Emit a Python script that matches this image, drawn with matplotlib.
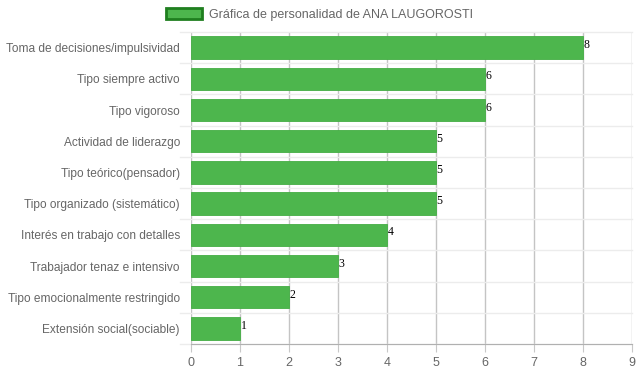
import matplotlib
matplotlib.use('Agg')
import matplotlib.pyplot as plt
from matplotlib.patches import Patch

plt.rcParams['font.family'] = ['Liberation Sans', 'DejaVu Sans']

# Data
categories = [
    'Toma de decisiones/impulsividad',
    'Tipo siempre activo',
    'Tipo vigoroso',
    'Actividad de liderazgo',
    'Tipo teórico(pensador)',
    'Tipo organizado (sistemático)',
    'Interés en trabajo con detalles',
    'Trabajador tenaz e intensivo',
    'Tipo emocionalmente restringido',
    'Extensión social(sociable)',
]
values = [8, 6, 6, 5, 5, 5, 4, 3, 2, 1]
legend_label = 'Gráfica de personalidad de ANA LAUGOROSTI'
x_ticks = list(range(0, 10))

fig = plt.figure(figsize=(6.39, 3.72), dpi=100)
ax = fig.add_axes([191 / 639, 1 - 344 / 372, (632 - 191) / 639, (344 - 32) / 372])

pos = list(range(len(categories)))
ax.barh(pos, values, height=0.72, color='#4db64d', edgecolor='#44ad44', linewidth=0.6, zorder=2)

for p, v in zip(pos, values):
    ax.text(v + 0.01, p - 0.08, str(v), fontsize=8.5, family='Liberation Serif',
            color='black', va='center', ha='left', zorder=3)

ax.set_xlim(0, 9)
ax.set_ylim(len(categories) - 0.5, -0.5)
ax.set_xticks(x_ticks)
ax.set_xticklabels([str(t) for t in x_ticks], fontsize=9, color='#666666')
ax.set_yticks(pos)
ax.set_yticklabels(categories, fontsize=8.6, color='#666666')

# grid lines
for t in x_ticks:
    ax.axvline(t, color='#c4c4c4', linewidth=1, zorder=1)
for b in [i - 0.5 for i in range(len(categories) + 1)]:
    ax.plot([-0.22, 9], [b, b], color='#ececec', linewidth=1, zorder=1, clip_on=False)

for s in ax.spines.values():
    s.set_visible(False)
ax.spines['bottom'].set_visible(True)
ax.spines['bottom'].set_color('#b0b0b0')
ax.tick_params(axis='y', length=0, pad=8)
ax.tick_params(axis='x', length=6, color='#c8c8c8', pad=3)

handle = Patch(facecolor='#4db64d', edgecolor='#1f7f1f', linewidth=2)
fig.legend([handle], [legend_label], loc='upper center', bbox_to_anchor=(0.5, 1.0),
           frameon=False, fontsize=9, labelcolor='#666666', handlelength=2.9,
           handleheight=0.9, handletextpad=0.6, borderaxespad=0.25)

fig.savefig('out.png', dpi=100)
